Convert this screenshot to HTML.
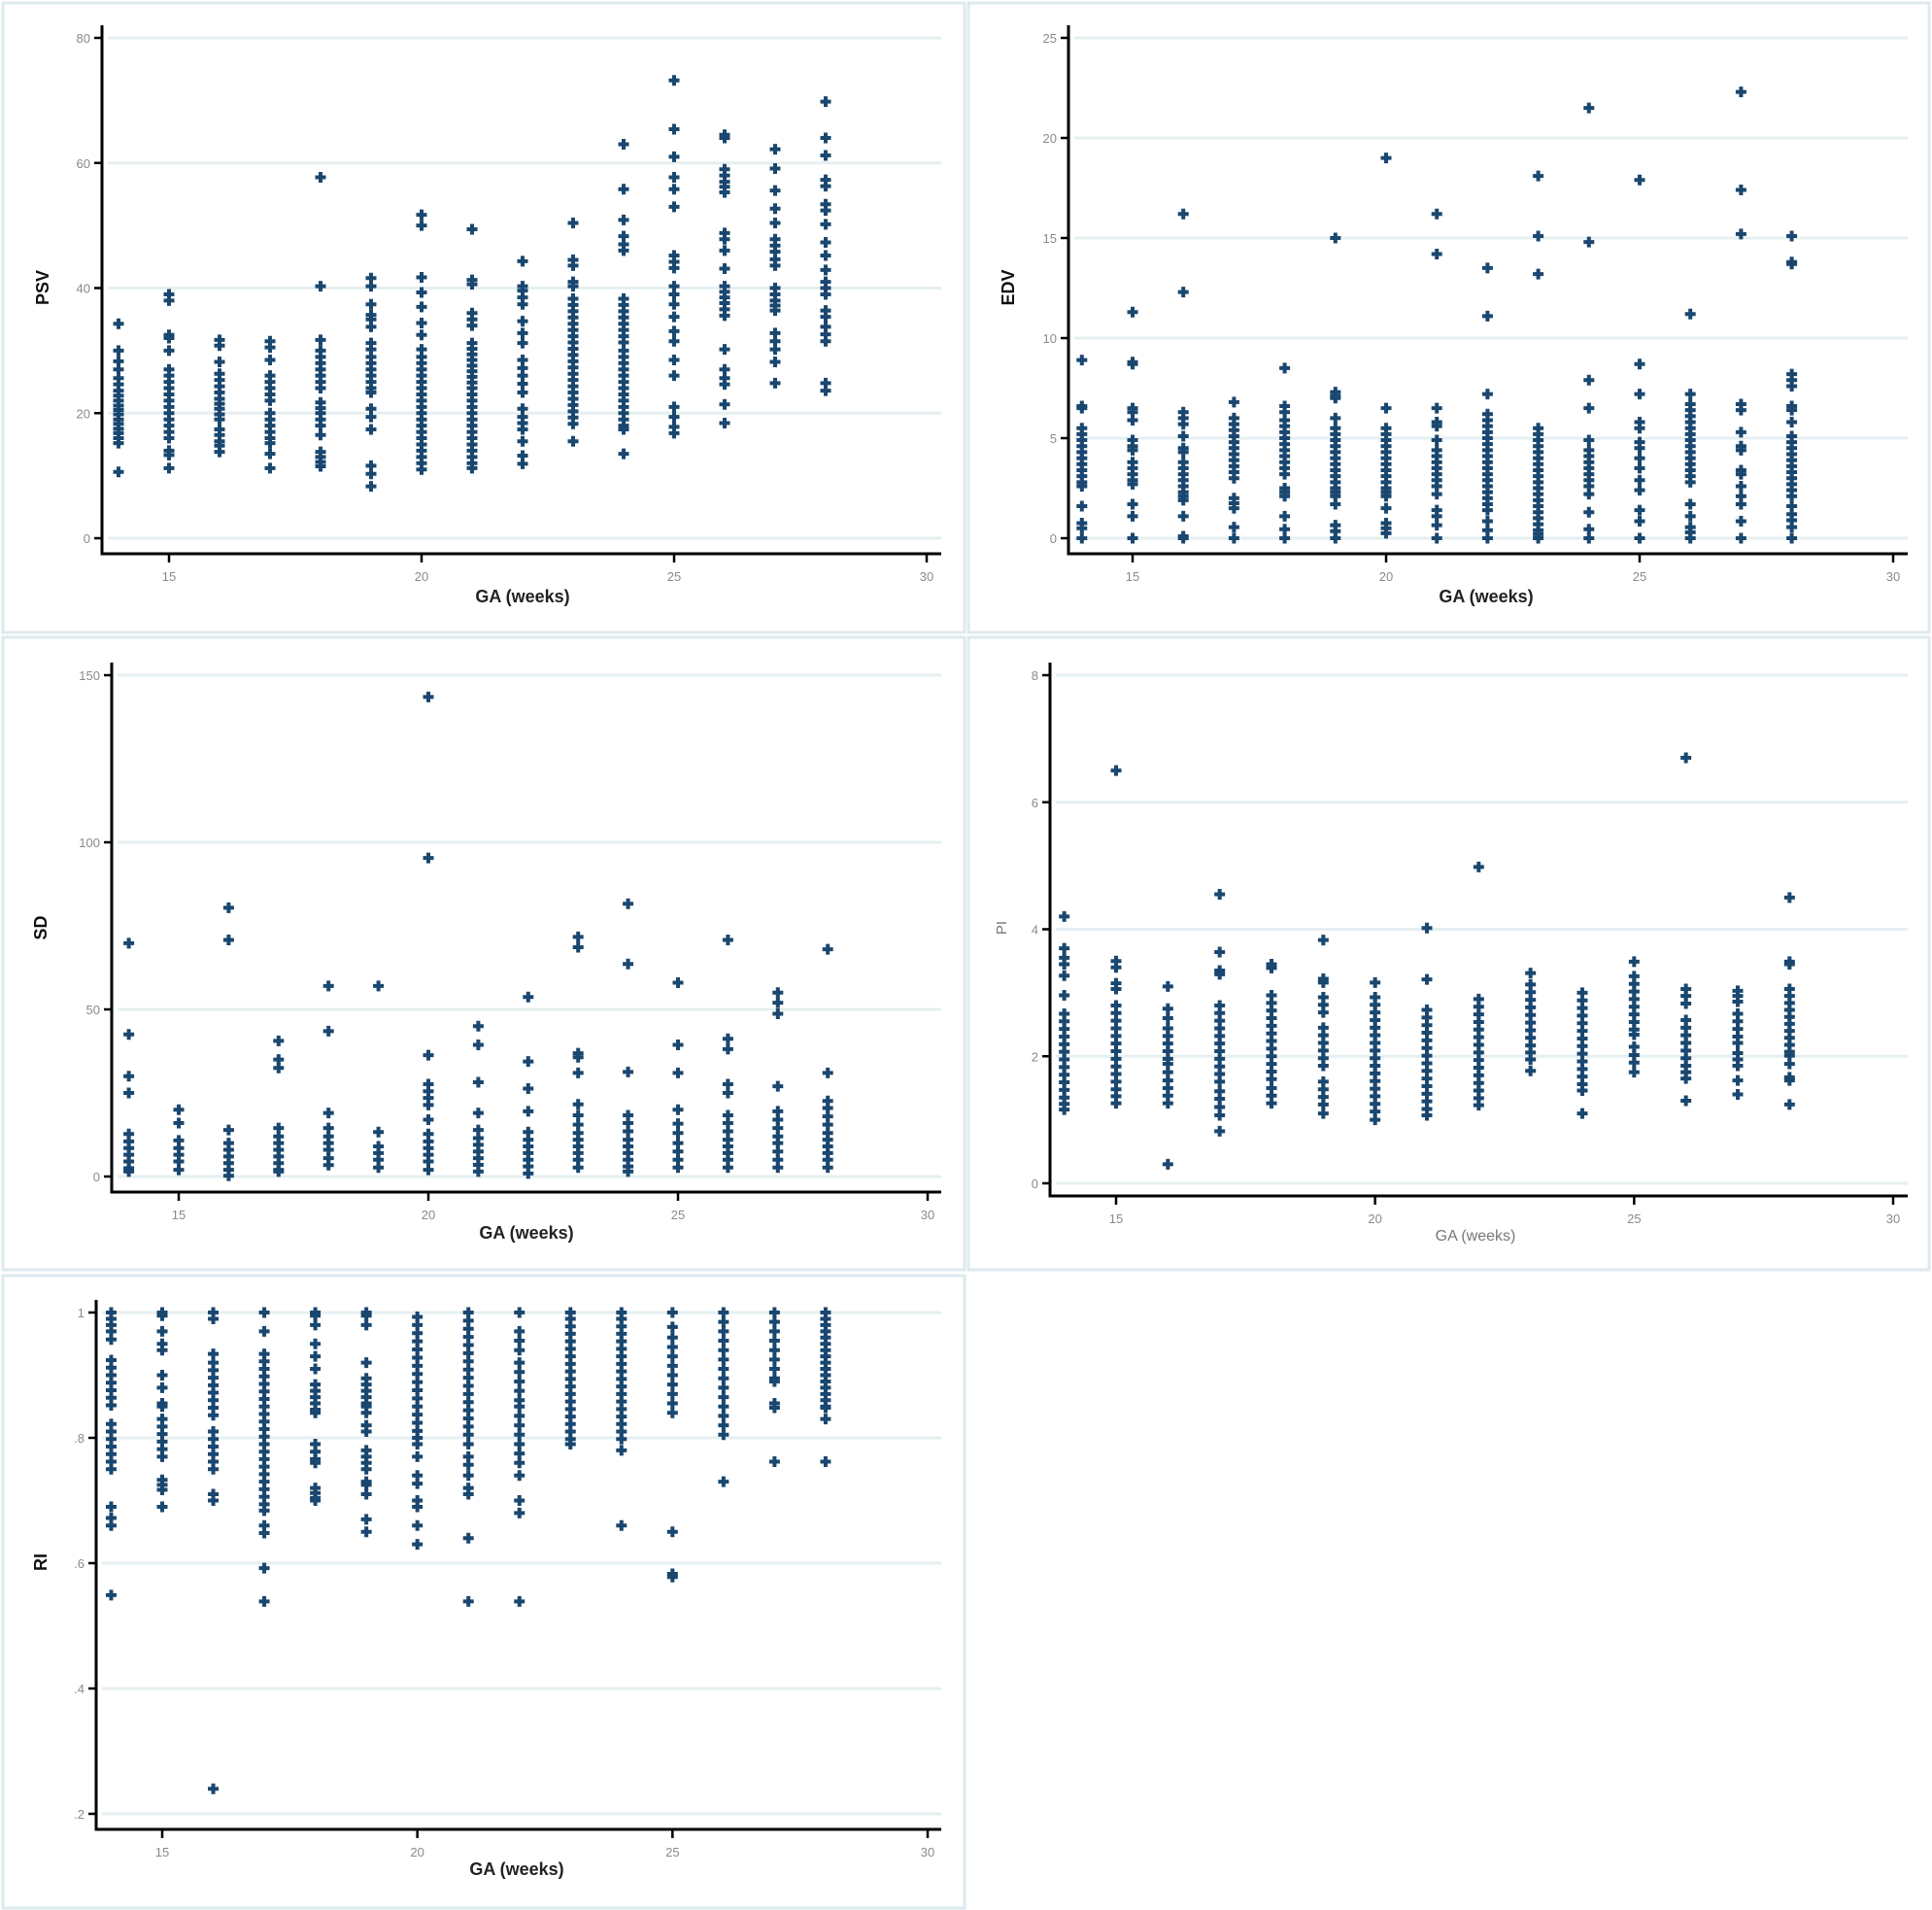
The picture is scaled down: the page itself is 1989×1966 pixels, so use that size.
<!DOCTYPE html>
<html><head><meta charset="utf-8"><style>
html,body{margin:0;padding:0;background:#fff;}
svg{display:block;font-family:"Liberation Sans",sans-serif;}
</style></head><body>
<svg id="chart" width="1989" height="1966" viewBox="0 0 1989 1966" xmlns="http://www.w3.org/2000/svg">
<rect x="0" y="0" width="1989" height="1966" fill="#fff"/>
</svg>
<script>
const weeks = [14,15,16,17,18,19,20,21,22,23,24,25,26,27,28];
const xTicks = [15,20,25,30];

const psvTicks = [0,20,40,60,80];
const psvVals = [
 [34.3,30,28.3,27,25.6,24.6,23.6,22.8,22,21.2,20.5,19.8,19,18.3,17.5,16.8,16,15.2,10.6],
 [39,38,32.5,32,30,27,26,25,24,23,22,21,20,19,18,17,16,14,13.3,11.2],
 [31.7,30.8,28.2,26.3,25.3,24.3,23.3,22.3,21.5,20.7,19.8,19,17.4,16.5,15.5,14.8,13.8],
 [31.5,30.5,28.5,26,25,24,23,22,20,19,18,17,16,15.2,13.5,11.2],
 [57.7,40.3,31.7,30,29,28,27,26,25,24,21.7,20.8,20,19,18,16.5,13.8,13,12.2,11.5],
 [41.6,40.3,37.4,35.7,35,33.8,31.2,30.2,29,28,27,26,25,24,23.3,20.7,19.4,17.4,11.6,10.3,8.3],
 [51.7,50,41.7,39.3,37,34.4,32.5,30.2,29,28,27,26,25,24,23,22,21,20,19,18,17,16,15,14,13,12,11],
 [49.4,41.3,40.6,36,35,34,31.2,30.3,29.4,28.5,27.6,26.7,25.8,24.9,24,23,22,21,20,19,18,17,16,15,14,13,12,11.2],
 [44.3,40.3,39.6,38.5,37.4,34.7,32.8,31.2,28.5,27.2,26,24.7,23.3,20.7,19.4,18.4,17.4,15.5,13.2,11.9],
 [50.4,44.5,43.6,41,40.3,38.3,37.3,36.3,35.3,34.3,33.3,32.3,31.3,30.3,29.3,28.3,27.3,26.3,25.3,24.3,23.3,22.3,21.3,20.3,19.3,18.3,15.5],
 [63,55.8,50.9,48.3,47,46,38.3,37.3,36.3,35.3,34.3,33.3,32.3,31.3,30,29,28,27,26,25,24,23,22,21,20,19,18,17.4,13.5],
 [73.2,65.4,61,57.7,55.8,53,45.2,44.2,43.2,40.3,39,37.4,35.4,33.1,31.5,28.5,26,21,19.4,17.8,16.8],
 [64.5,64,59,58,57,56.2,55.3,48.8,47.8,46,43.1,40.3,39.4,38.5,37.6,36.6,35.6,30.2,27,25.6,24.6,21.4,18.4],
 [62.2,59.1,55.6,52.7,50.4,47.8,46.8,45.8,44.6,43.6,40,39,38,37.2,36.4,32.8,31.5,30.2,28.2,24.8],
 [69.8,64,61.2,57.3,56.3,53.4,52.4,50.2,47.3,45.2,42.9,41,40,39,36.4,35.4,33.8,32.6,31.5,24.8,23.6]
];

const edvTicks = [0,5,10,15,20,25];
const edvVals = [
 [8.9,6.6,6.5,5.5,5.2,4.9,4.6,4.3,4,3.7,3.4,3.1,2.8,2.6,1.6,0.75,0.5,0],
 [11.3,8.8,8.7,6.5,6.3,5.9,4.9,4.6,4.4,3.8,3.5,3.2,2.9,2.7,1.7,1.1,0],
 [16.2,12.3,6.3,6,5.7,5.1,4.5,4.3,3.8,3.5,3.2,2.9,2.6,2.3,2.1,1.9,1.1,0.1,0],
 [6.8,6,5.7,5.4,5.1,4.8,4.5,4.2,3.9,3.6,3.3,3,2,1.75,1.5,0.55,0],
 [8.5,6.6,6.3,5.9,5.6,5.3,5,4.7,4.4,4.1,3.8,3.5,3.2,2.5,2.3,2.1,1.1,0.45,0],
 [15,7.3,7.1,7,6,5.5,5.2,4.9,4.6,4.3,4,3.7,3.4,3.1,2.8,2.5,2.3,2.1,1.7,0.65,0.35,0],
 [19,6.5,5.5,5.2,4.9,4.6,4.3,4,3.7,3.4,3.1,2.8,2.5,2.3,2.1,1.5,0.75,0.5,0.25],
 [16.2,14.2,6.5,5.8,5.6,4.9,4.4,4.1,3.8,3.5,3.2,2.9,2.6,2.2,1.4,1.1,0.65,0],
 [13.5,11.1,7.2,6.2,5.9,5.6,5.3,5,4.7,4.4,4.1,3.8,3.5,3.2,2.9,2.6,2.3,2,1.7,1.4,0.85,0.4,0],
 [18.1,15.1,13.2,5.5,5.2,4.9,4.6,4.3,4,3.7,3.4,3.1,2.8,2.5,2.2,1.9,1.6,1.3,1,0.7,0.4,0.2,0],
 [21.5,14.8,7.9,6.5,4.9,4.4,4.1,3.8,3.5,3.2,2.9,2.6,2.2,1.3,0.45,0],
 [17.9,8.7,7.2,5.8,5.5,4.8,4.5,4,3.5,2.9,2.4,1.4,0.85,0],
 [11.2,7.2,6.7,6.4,6.1,5.8,5.5,5.2,4.9,4.6,4.3,4,3.7,3.4,3.1,2.8,1.7,1.1,0.55,0.3,0],
 [22.3,17.4,15.2,6.7,6.4,5.3,4.6,4.4,3.4,3.2,2.6,2.1,1.7,0.85,0],
 [15.1,13.8,13.7,8.2,7.9,7.6,6.6,6.4,5.8,5.1,4.8,4.5,4.2,3.9,3.6,3.3,3,2.7,2.4,2.1,1.6,1.2,0.9,0.55,0]
];

const sdTicks = [0,50,100,150];
const sdVals = [
 [69.8,42.5,30,25,12.7,10.5,8.5,6.5,4.5,2.5,1.5],
 [20,16,10.8,8.5,6.5,4.5,2],
 [80.4,70.8,13.9,10,8,6,4,2,0.2],
 [40.6,35,32.5,14.5,12,10,8,6,4,2,1.5],
 [57,43.5,19,14.5,12,10,8,5.5,3.4],
 [57,13.3,9,7,5,2.7],
 [143.5,95.3,36.3,27.6,25.5,23.5,21.4,17,12.7,10.5,8.5,6.5,4.5,2],
 [45,39.4,28.2,19,13.9,11.5,9.5,7.5,5.5,3.5,1.5],
 [53.7,34.4,26.3,19.5,13.3,11,9,7,5,3,0.9],
 [71.7,68.6,36.9,35.7,31,21.6,18.3,15.5,13,11,9,7,5,2.7],
 [81.6,63.6,31.3,18.3,16,13.5,11,9,7,5,3,1.5],
 [58,39.4,31,20,15.8,13,10,7.5,5,2.7],
 [70.8,41.2,38.1,27.6,25,18.3,16,13.5,11,9,7,5,2.7],
 [55,52,48.7,27,19.5,17,14.5,12,10,7.5,5,2.7],
 [68,31,22.6,20.5,18,15.5,13,11,9,7,5,2.7]
];

const piTicks = [0,2,4,6,8];
const piVals = [
 [4.2,3.7,3.55,3.45,3.27,2.96,2.67,2.55,2.43,2.31,2.19,2.07,1.95,1.83,1.71,1.59,1.47,1.35,1.25,1.16],
 [6.5,3.5,3.4,3.15,3.06,2.8,2.68,2.56,2.44,2.32,2.2,2.08,1.96,1.84,1.72,1.6,1.48,1.37,1.26],
 [3.1,2.75,2.6,2.44,2.32,2.2,2.08,1.96,1.88,1.75,1.62,1.5,1.38,1.26,0.3],
 [4.55,3.64,3.35,3.29,2.8,2.68,2.56,2.44,2.32,2.2,2.08,1.96,1.84,1.72,1.6,1.45,1.33,1.2,1.07,0.82],
 [3.45,3.39,2.96,2.84,2.72,2.6,2.48,2.36,2.24,2.12,2,1.88,1.76,1.64,1.5,1.38,1.26],
 [3.83,3.22,3.16,2.93,2.81,2.69,2.45,2.33,2.21,2.09,1.97,1.85,1.6,1.48,1.36,1.24,1.1],
 [3.16,2.93,2.81,2.69,2.57,2.45,2.33,2.21,2.09,1.97,1.85,1.73,1.61,1.49,1.37,1.25,1.13,1],
 [4.02,3.21,2.73,2.61,2.49,2.37,2.25,2.13,2.01,1.89,1.77,1.65,1.53,1.41,1.29,1.17,1.07],
 [4.98,2.9,2.78,2.66,2.54,2.42,2.3,2.18,2.06,1.94,1.82,1.7,1.58,1.46,1.34,1.23],
 [3.31,3.13,3.01,2.89,2.77,2.65,2.53,2.41,2.29,2.17,2.06,1.95,1.77],
 [3,2.88,2.76,2.64,2.52,2.4,2.28,2.16,2.04,1.92,1.8,1.68,1.56,1.46,1.1],
 [3.49,3.26,3.14,3.02,2.9,2.78,2.66,2.54,2.42,2.34,2.15,2.02,1.9,1.75],
 [6.7,3.06,2.95,2.83,2.57,2.45,2.33,2.21,2.09,1.97,1.85,1.75,1.65,1.3],
 [3.03,2.95,2.86,2.67,2.55,2.43,2.31,2.21,2.05,1.95,1.85,1.62,1.4],
 [4.5,3.49,3.45,3.06,2.95,2.84,2.73,2.62,2.51,2.4,2.29,2.18,2.07,2.01,1.88,1.67,1.62,1.24]
];

const riTicks = [0.2,0.4,0.6,0.8,1];
const riTickLabels = [".2",".4",".6",".8","1"];
const riVals = [
 [1,0.99,0.98,0.97,0.957,0.924,0.912,0.9,0.888,0.876,0.864,0.852,0.822,0.81,0.798,0.786,0.774,0.762,0.75,0.69,0.672,0.66,0.549],
 [1,0.995,0.97,0.95,0.94,0.9,0.88,0.855,0.85,0.83,0.818,0.806,0.794,0.782,0.77,0.733,0.725,0.717,0.69],
 [1,0.99,0.934,0.92,0.908,0.896,0.884,0.872,0.86,0.848,0.836,0.81,0.798,0.786,0.774,0.762,0.75,0.71,0.7,0.24],
 [1,0.97,0.934,0.922,0.91,0.898,0.886,0.874,0.862,0.85,0.838,0.826,0.814,0.802,0.79,0.778,0.766,0.754,0.742,0.73,0.718,0.706,0.694,0.684,0.66,0.648,0.592,0.539],
 [1,0.995,0.98,0.95,0.93,0.91,0.885,0.875,0.865,0.855,0.845,0.84,0.79,0.778,0.766,0.76,0.72,0.712,0.704,0.7],
 [1,0.995,0.98,0.92,0.895,0.885,0.875,0.865,0.855,0.85,0.84,0.82,0.81,0.78,0.77,0.76,0.75,0.73,0.725,0.71,0.67,0.65],
 [0.993,0.98,0.967,0.954,0.941,0.928,0.915,0.902,0.889,0.876,0.863,0.85,0.837,0.824,0.811,0.8,0.79,0.77,0.74,0.727,0.7,0.69,0.66,0.63],
 [1,0.987,0.974,0.961,0.948,0.935,0.922,0.909,0.896,0.883,0.87,0.857,0.844,0.831,0.818,0.805,0.79,0.77,0.757,0.74,0.72,0.71,0.64,0.539],
 [1,0.97,0.955,0.94,0.92,0.905,0.89,0.875,0.86,0.85,0.835,0.82,0.805,0.79,0.775,0.76,0.74,0.7,0.68,0.539],
 [1,0.99,0.978,0.966,0.954,0.942,0.93,0.918,0.906,0.894,0.882,0.87,0.858,0.846,0.834,0.822,0.81,0.798,0.79],
 [1,0.99,0.978,0.966,0.954,0.942,0.93,0.918,0.906,0.894,0.882,0.87,0.858,0.846,0.834,0.822,0.81,0.798,0.78,0.66],
 [1,0.977,0.96,0.945,0.93,0.915,0.9,0.885,0.87,0.855,0.84,0.65,0.583,0.578],
 [1,0.985,0.97,0.955,0.94,0.925,0.91,0.895,0.88,0.865,0.85,0.835,0.82,0.805,0.73],
 [1,0.985,0.97,0.955,0.94,0.925,0.91,0.895,0.89,0.855,0.848,0.762],
 [1,0.99,0.98,0.97,0.96,0.95,0.94,0.93,0.92,0.91,0.9,0.89,0.88,0.87,0.86,0.85,0.848,0.83,0.762]
];

const NS = "http://www.w3.org/2000/svg";
const svg = document.getElementById("chart");
const NAVY = "#1a476f";

function el(tag, attrs, parent) {
  const e = document.createElementNS(NS, tag);
  for (const k in attrs) e.setAttribute(k, attrs[k]);
  parent.appendChild(e);
  return e;
}

function drawPanel(p, vals, yTicks, yLabels) {
  const g = el("g", {}, svg);
  
  
  const frame = el("rect", {x:p.bx, y:p.by, width:p.bw, height:p.bh, fill:"#fff", stroke:"#dde9ee", "stroke-width":3}, g);
  
  
  const xs = v => p.x15 + (v - 15) * (p.x30 - p.x15) / 15;
  const ys = v => p.y0 + (v - p.v0) * (p.y1 - p.y0) / (p.v1 - p.v0);
  yTicks.forEach((t, i) => {
    const yy = ys(t);
    const gl = el("line", {x1:p.ax + 6, x2:p.right, y1:yy, y2:yy, stroke:"#e6eff1", "stroke-width":3}, g);
    
    
    const tk = el("line", {x1:p.ax - 8, x2:p.ax, y1:yy, y2:yy, stroke:"#000", "stroke-width":2.5}, g);
    
    
    const tl = el("text", {x:p.ax - 12, y:yy + 5, "text-anchor":"end", "font-size":13, fill:"#8a8a8a"}, g);
    tl.textContent = yLabels ? yLabels[i] : String(t);
    
    
  });
  xTicks.forEach(t => {
    const xx = xs(t);
    const tk = el("line", {x1:xx, x2:xx, y1:p.xa, y2:p.xa + 9, stroke:"#000", "stroke-width":2.5}, g);
    
    
    const tl = el("text", {x:xx, y:p.xa + 28, "text-anchor":"middle", "font-size":13, fill:"#8a8a8a"}, g);
    tl.textContent = String(t);
    
    
  });
  const ya = el("line", {x1:p.ax, x2:p.ax, y1:p.top, y2:p.xa + 1.5, stroke:"#000", "stroke-width":3}, g);
  
  
  const xaL = el("line", {x1:p.ax - 1.5, x2:p.right, y1:p.xa, y2:p.xa, stroke:"#000", "stroke-width":3}, g);
  
  
  const yt = el("text", {x:p.ytx, y:p.yty, "text-anchor":"middle", "font-size":p.light ? 15 : 18, "font-weight":p.light ? "normal" : "bold", fill:p.light ? "#777" : "#111", transform:"rotate(-90 " + p.ytx + " " + p.yty + ")"}, g);
  yt.textContent = p.ytitle;
  
  
  const xt = el("text", {x:p.xtx, y:p.xty, "text-anchor":"middle", "font-size":p.light ? 16 : 18, "font-weight":p.light ? "normal" : "bold", fill:p.light ? "#777" : "#222"}, g);
  xt.textContent = "GA (weeks)";
  
  
  weeks.forEach((w, i) => {
    const cx = xs(w);
    vals[i].forEach(v => {
      const cy = ys(v);
      const m = el("path", {d:"M" + (cx - 5.5) + " " + cy + "H" + (cx + 5.5) + "M" + cx + " " + (cy - 5.5) + "V" + (cy + 5.5), stroke:NAVY, "stroke-width":4, fill:"none"}, g);
      
      
    });
  });
}

drawPanel({name:"psv", bx:3, by:3, bw:990, bh:648, ax:105, x15:174, x30:954, right:969, top:26, xa:570, y0:554, y1:39, v0:0, v1:80, ytitle:"PSV", ytx:50, yty:296, xtx:538, xty:620}, psvVals, psvTicks);
drawPanel({name:"edv", bx:997, by:3, bw:989, bh:648, ax:1100, x15:1166, x30:1949, right:1964, top:26, xa:570, y0:554, y1:39, v0:0, v1:25, ytitle:"EDV", ytx:1044, yty:296, xtx:1530, xty:620}, edvVals, edvTicks);
drawPanel({name:"sd", bx:3, by:656, bw:990, bh:651, ax:115, x15:184, x30:955, right:969, top:682, xa:1227, y0:1211, y1:695, v0:0, v1:150, ytitle:"SD", ytx:48, yty:955, xtx:542, xty:1275}, sdVals, sdTicks);
drawPanel({name:"pi", bx:997, by:656, bw:989, bh:651, ax:1081, x15:1149, x30:1949, right:1964, top:682, xa:1231, y0:1218, y1:695, v0:0, v1:8, ytitle:"PI", ytx:1036, yty:955, xtx:1519, xty:1277, light:true}, piVals, piTicks);
drawPanel({name:"ri", bx:3, by:1313, bw:990, bh:651, ax:99, x15:167, x30:955, right:969, top:1338, xa:1883, y0:1867, y1:1351, v0:0.2, v1:1, ytitle:"RI", ytx:48, yty:1608, xtx:532, xty:1930}, riVals, riTicks, riTickLabels);
</script>
</body></html>
